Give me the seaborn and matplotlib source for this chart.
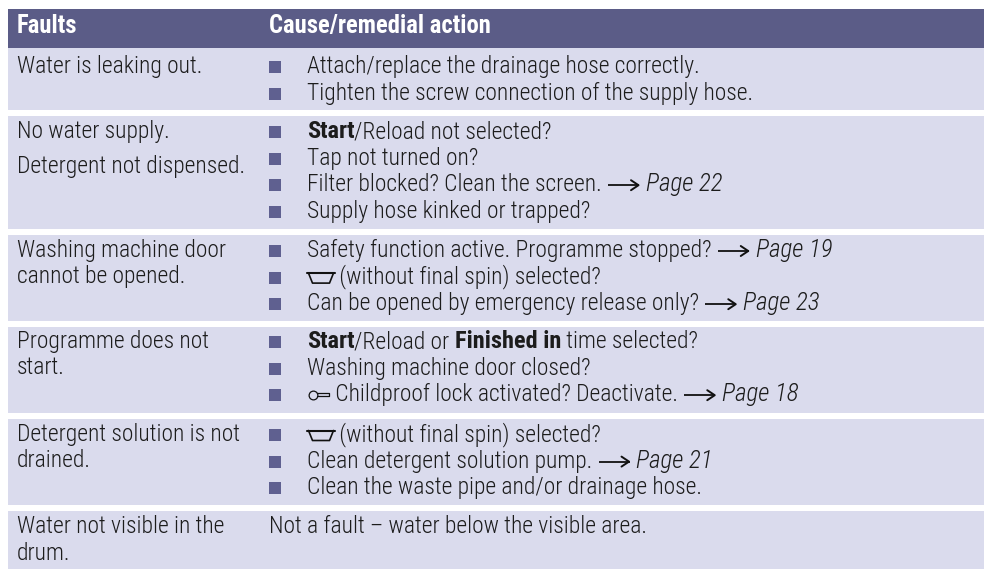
import matplotlib
matplotlib.use("Agg")
import matplotlib.pyplot as plt
import seaborn as sns

# ---------- content ----------
HEADERS = ["Faults", "Cause/remedial action"]

FAULTS = [
    [(0, "Water is leaking out.")],
    [(0, "No water supply."), (35, "Detergent not dispensed.")],
    [(0, "Washing machine door"), (26, "cannot be opened.")],
    [(0, "Programme does not"), (26, "start.")],
    [(0, "Detergent solution is not"), (26, "drained.")],
    [(0, "Water not visible in the"), (27, "drum.")],
]

ACTIONS = [
    [[("r", "Attach/replace the drainage hose correctly.")],
     [("r", "Tighten the screw connection of the supply hose.")]],
    [[("b", "Start"), ("r", "/Reload not selected?")],
     [("r", "Tap not turned on?")],
     [("r", "Filter blocked? Clean the screen. "), ("arrow", ""), ("i", "Page 22")],
     [("r", "Supply hose kinked or trapped?")]],
    [[("r", "Safety function active. Programme stopped? "), ("arrow", ""), ("i", "Page 19")],
     [("tub", ""), ("r", " (without final spin) selected?")],
     [("r", "Can be opened by emergency release only? "), ("arrow", ""), ("i", "Page 23")]],
    [[("b", "Start"), ("r", "/Reload or "), ("b", "Finished in"), ("r", " time selected?")],
     [("r", "Washing machine door closed?")],
     [("key", ""), ("r", " Childproof lock activated? Deactivate. "), ("arrow", ""), ("i", "Page 18")]],
    [[("tub", ""), ("r", " (without final spin) selected?")],
     [("r", "Clean detergent solution pump. "), ("arrow", ""), ("i", "Page 21")],
     [("r", "Clean the waste pipe and/or drainage hose.")]],
]
NOTE = "Not a fault \u2013 water below the visible area."

# ---------- layout (pixels) ----------
W, H = 984, 569
ROW_TOPS = [48, 116, 235, 327, 419, 511]
ROW_BOTTOMS = [110, 229, 321, 413, 505, 569]
BASELINES = [73, 138, 257, 348, 441, 533]
LINE_STEP = 26.6
X_LEFT, X_COL2, X_TEXT = 17, 269, 307
HEADER_COLOR, BAND_COLOR, BULLET_COLOR = "#5B5C87", "#DADBED", "#5F6090"
TEXT_COLOR = "#1c1c1c"

sns.set_theme(style="white")
FONT = ["Roboto Condensed", "Liberation Sans"]
SIZE = 16.9
BOLD_SIZE = 17.6
ITALIC_SIZE = 18.0
HEADER_SIZE = 17.7

fig = plt.figure(figsize=(W / 100, H / 100), dpi=100)
ax = fig.add_axes([0, 0, 1, 1])
ax.set_xlim(0, W)
ax.set_ylim(H, 0)
ax.axis("off")

ax.barh([(9 + 48) / 2], [W - 8], left=8, height=39, color=HEADER_COLOR, linewidth=0)
for top, bottom in zip(ROW_TOPS, ROW_BOTTOMS):
    ax.barh([(top + bottom) / 2], [W - 8], left=8, height=bottom - top,
            color=BAND_COLOR, linewidth=0)

for x0, s in zip([X_LEFT, X_COL2], HEADERS):
    ax.text(x0, 33, s, color="white", family=FONT, weight="bold",
            size=HEADER_SIZE, va="baseline")

renderer = fig.canvas.get_renderer()


def put(x, y, s, weight=300, style="normal", size=SIZE):
    ax.text(x, y, s, color=TEXT_COLOR, family=FONT, size=size, va="baseline",
            weight=weight, style=style)
    probe = ax.text(0, 0, s.replace(" ", "\u00a0"), family=FONT, size=size,
                    weight=weight, style=style)
    w = probe.get_window_extent(renderer).width
    probe.remove()
    return x + w


def arrow(x, y):
    yc = y - 6
    ax.plot([x + 1, x + 32], [yc, yc], color="#111111", lw=1.3, solid_capstyle="butt")
    ax.plot([x + 24, x + 31.5, x + 24], [yc - 5, yc, yc + 5], color="#111111", lw=1.4)
    return x + 39


def tub(x, y):
    ax.plot([x, x + 28], [y - 10.5, y - 10.5], color="#111111", lw=1.5)
    ax.plot([x + 1.5, x + 5.5, x + 22.5, x + 26.5], [y - 10.5, y - 0.5, y - 0.5, y - 10.5],
            color="#111111", lw=1.2)
    return x + 27


def key(x, y):
    ax.plot([x + 5.5], [y - 6], marker="o", ms=6.3, mfc="none", mec="#111111", mew=0.9)
    ax.plot([x + 10, x + 22, x + 22, x + 17, x + 10],
            [y - 8, y - 8, y - 5, y - 5, y - 5], color="#111111", lw=0.9)
    return x + 23


for base, lines in zip(BASELINES, FAULTS):
    for dy, s in lines:
        put(X_LEFT, base + dy, s)

for base, lines in zip(BASELINES, ACTIONS):
    for i, segs in enumerate(lines):
        y = base + i * LINE_STEP
        ax.barh([y - 6], [12], left=X_COL2, height=12, color=BULLET_COLOR, linewidth=0)
        x = X_TEXT
        for kind, s in segs:
            if kind == "arrow":
                x = arrow(x, y)
            elif kind == "tub":
                x = tub(x, y)
            elif kind == "key":
                x = key(x, y)
            elif kind == "b":
                x = put(x, y, s, weight=700, size=BOLD_SIZE)
            elif kind == "i":
                x = put(x, y, s, style="italic", size=ITALIC_SIZE)
            else:
                x = put(x, y, s)

put(X_COL2, BASELINES[5], NOTE)

ax.set_xlim(0, W)
ax.set_ylim(H, 0)
fig.savefig("out.png", dpi=100, facecolor="white")
